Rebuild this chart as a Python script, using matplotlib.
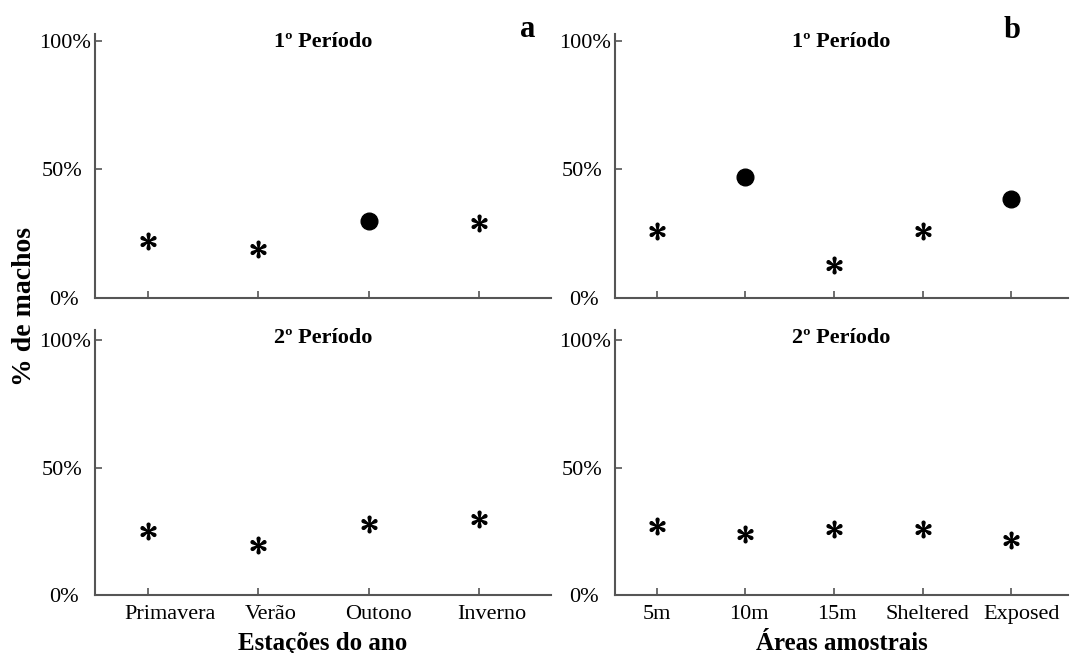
import numpy as np
import matplotlib
matplotlib.use("Agg")
from matplotlib import pyplot as plt
from matplotlib.transforms import ScaledTranslation

plt.rcParams["font.family"] = ["Liberation Serif", "DejaVu Serif"]
plt.rcParams["mathtext.fontset"] = "stix"

# seasons (panel a) and sampling areas (panel b)
seasons = ["Primavera", "Verão", "Outono", "Inverno"]
areas = ["5m", "10m", "15m", "Sheltered", "Exposed"]

# % of males per period
season_p1 = [22, 19, 30, 29]
season_p2 = [25, 19.5, 28, 30]
area_p1 = [26, 47, 13, 26, 38.5]
area_p2 = [27, 24, 26, 26, 21.5]

# True = significant deviation (filled circle), False = asterisk
season_sig_p1 = [False, False, True, False]
season_sig_p2 = [False, False, False, False]
area_sig_p1 = [False, True, False, False, True]
area_sig_p2 = [False, False, False, False, False]

spine_col = "#555555"

fig = plt.figure(figsize=(10.76, 6.53), dpi=100)
ax_a1 = fig.add_axes([0.0883, 0.5436, 0.4238, 0.4043])
ax_b1 = fig.add_axes([0.5716, 0.5436, 0.4210, 0.4043])
ax_a2 = fig.add_axes([0.0883, 0.0888, 0.4238, 0.4058])
ax_b2 = fig.add_axes([0.5716, 0.0888, 0.4210, 0.4058])


def nudge(labels, dx_px, dy_px=None):
    # shift tick labels by a few pixels each
    if dy_px is None:
        dy_px = [0] * len(dx_px)
    for lab, dx, dy in zip(labels, dx_px, dy_px):
        lab.set_transform(lab.get_transform() +
                          ScaledTranslation(dx / 100, dy / 100, fig.dpi_scale_trans))


def draw_panel(ax, cats, vals, sig, title, xlim, ytop, show_x):
    x = np.arange(len(cats))
    vals = np.array(vals)
    sig = np.array(sig)
    ax.plot(x[~sig], vals[~sig], linestyle="none", marker=r"$\ast$",
            markersize=12, color="black")
    ax.plot(x[sig], vals[sig], linestyle="none", marker="o",
            markersize=12, color="black")
    ax.set_xlim(*xlim)
    ax.set_ylim(0, ytop)
    ax.set_yticks([0, 50, 100])
    ax.set_yticklabels(["0%", "50%", "100%"])
    ax.set_xticks(x)
    if show_x:
        ax.set_xticklabels(cats)
    else:
        ax.set_xticklabels([])
    for side in ["top", "right"]:
        ax.spines[side].set_visible(False)
    for side in ["left", "bottom"]:
        ax.spines[side].set_color(spine_col)
        ax.spines[side].set_linewidth(1.5)
    ax.tick_params(direction="in", length=5, width=1.2, color=spine_col,
                   labelsize=16, pad=3)
    ax.tick_params(axis="x", pad=7)
    ax.text(0.5, 0.97, title, transform=ax.transAxes, ha="center",
            va="center", fontsize=16, fontweight="bold")
    nudge(ax.get_yticklabels(), [-12, -8, 0])


draw_panel(ax_a1, seasons, season_p1, season_sig_p1, "1º Período",
           (-0.48, 3.65), 102.7, False)
draw_panel(ax_b1, areas, area_p1, area_sig_p1, "1º Período",
           (-0.47, 4.64), 102.7, False)
draw_panel(ax_a2, seasons, season_p2, season_sig_p2, "2º Período",
           (-0.48, 3.65), 104, True)
draw_panel(ax_b2, areas, area_p2, area_sig_p2, "2º Período",
           (-0.47, 4.64), 104, True)

nudge(ax_a2.get_xticklabels(), [22, 12, 10, 13])
nudge(ax_b2.get_xticklabels(), [0, 4, 3, 5, 10])

ax_a2.set_xlabel("Estações do ano", fontsize=18, fontweight="bold", labelpad=6)
ax_b2.set_xlabel("Áreas amostrais", fontsize=18, fontweight="bold", labelpad=6)

fig.text(0.49, 0.955, "a", fontsize=22, fontweight="bold", ha="center", va="center")
fig.text(0.941, 0.953, "b", fontsize=22, fontweight="bold", ha="center", va="center")
fig.text(0.023, 0.53, "% de machos", fontsize=20, fontweight="bold",
         rotation=90, ha="center", va="center")

fig.savefig("out.png", dpi=100, facecolor="white")
